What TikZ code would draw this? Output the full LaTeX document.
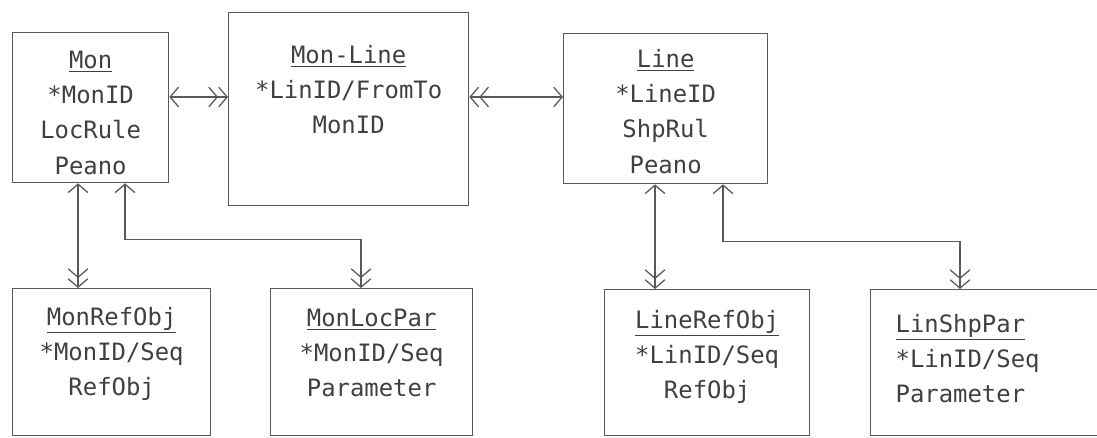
\documentclass[tikz,border=0pt]{standalone}
\usepackage{fontspec}
\setmonofont{DejaVu Sans Mono}
\usetikzlibrary{arrows.meta,calc}

\begin{document}
\begin{tikzpicture}[x=0.025cm, y=-0.025cm, line width=0.9pt, color=black!65, text=black!75,
    >={Straight Barb[length=6pt,width=14pt]},
    entity/.style={draw, anchor=north west, inner sep=0pt, align=center,
      font=\ttfamily\fontsize{17}{25}\selectfont}]
    \useasboundingbox (0,0) rectangle (1097,437);
    \clip (0,0) rectangle (1097,437);
    % Entities, top row
    \node[entity, text width=3.9cm, text height=0.9cm, text depth=2.85cm] (mon) at (12,32)
      {\underline{Mon}\\{*}MonID\\LocRule\\Peano};
    \node[entity, text width=6cm, text height=1.275cm, text depth=3.55cm] (monline) at (228,12)
      {\underline{Mon-Line}\\{*}LinID/FromTo\\MonID};
    \node[entity, text width=5.1cm, text height=0.85cm, text depth=2.9cm] (line) at (563,33)
      {\underline{Line}\\{*}LineID\\ShpRul\\Peano};
    % Entities, bottom row
    \node[entity, text width=4.95cm, text height=0.925cm, text depth=2.75cm] (mref) at (12,288)
      {\underline{MonRefObj}\\{*}MonID/Seq\\RefObj};
    \node[entity, text width=5.05cm, text height=0.95cm, text depth=2.725cm] (mloc) at (270,288)
      {\underline{MonLocPar}\\{*}MonID/Seq\\Parameter};
    \node[entity, text width=5.125cm, text height=0.975cm, text depth=2.675cm] (lref) at (604,289)
      {\underline{LineRefObj}\\{*}LinID/Seq\\RefObj};
    \node[entity, align=left, inner xsep=0.625cm, text width=4.75cm, text height=1.075cm,
      text depth=2.575cm] (lshp) at (870,289)
      {\underline{LinShpPar}\\{*}LinID/Seq\\Parameter};
    % Relationships
    \coordinate (mr) at ($(mon.north east)+(0,65)$);
    \coordinate (lr) at ($(monline.north east)+(0,85)$);
    \draw[<->>] (mr) -- (mr -| monline.west);
    \draw[<<->] (lr) -- (lr -| line.west);
    \coordinate (m1) at ($(mon.south west)+(66,0)$);
    \coordinate (m2) at ($(mon.south west)+(113,0)$);
    \draw[<->>] (m1) -- (m1 |- mref.north);
    \draw[<->>] (m2) -- ++(0,56) -| ($(mloc.north west)+(91,0)$);
    \coordinate (l1) at ($(line.south west)+(92,0)$);
    \coordinate (l2) at ($(line.south west)+(160,0)$);
    \draw[<->>] (l1) -- (l1 |- lref.north);
    \draw[<->>] (l2) -- ++(0,57) -| ($(lshp.north west)+(90,0)$);
\end{tikzpicture}
\end{document}
